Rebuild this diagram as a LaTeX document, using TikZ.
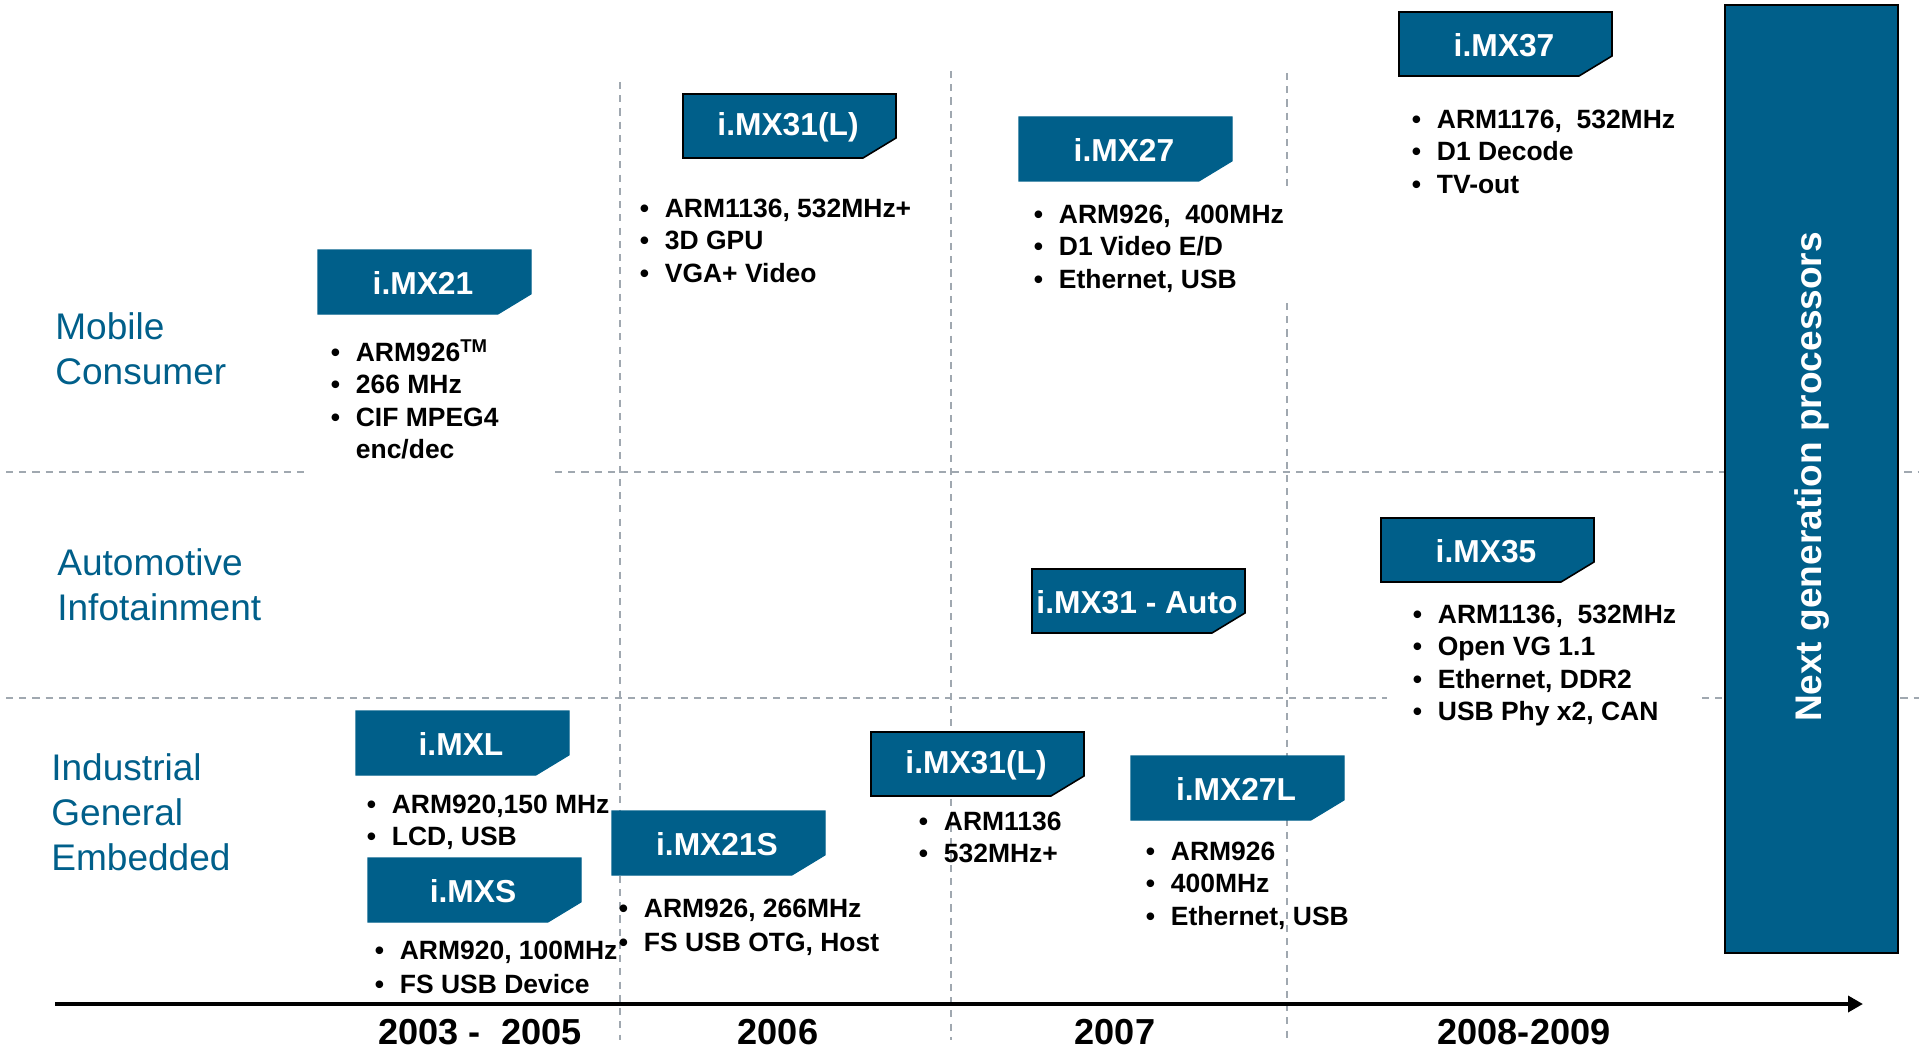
\documentclass[tikz,border=0pt]{standalone}
\usepackage{fontspec}
\setmainfont{Liberation Sans}
\usetikzlibrary{arrows.meta}
\definecolor{imxblue}{RGB}{0,95,138}
\definecolor{gridgray}{RGB}{160,168,176}
\tikzset{
  chipshape/.style={fill=imxblue, draw=imxblue, line width=0.6pt, line join=miter},
  chipedge/.style={draw=black, line width=0.9pt},
  chiptext/.style={text=white, font=\fontsize{18}{21}\selectfont\bfseries, inner sep=0pt},
  featlist/.style={anchor=base west, inner sep=0pt, font=\fontsize{15}{#1}\selectfont\bfseries},
  featlist/.default=18.3pt,
  cat/.style={anchor=base west, inner sep=0pt, align=left, text=imxblue, font=\fontsize{21}{25.5}\selectfont},
  year/.style={anchor=base, inner sep=0pt, font=\fontsize{20.5}{24}\selectfont\bfseries},
  gridline/.style={draw=gridgray, line width=1.1pt, dash pattern=on 4pt off 3.5pt},
  axisline/.style={line width=2.5pt, -{Triangle[length=8.5pt,width=9pt]}},
  nextbox/.style={fill=imxblue, draw=black, line width=1pt},
  nexttext/.style={rotate=90, text=white, inner sep=0pt, font=\fontsize{21}{24}\selectfont\bfseries},
}
% chip: [extra style]{name}{x}{y}{title}
\newcommand\chip[5][]{%
  \filldraw[chipshape,#1] (#3,#4) -- (#3+213,#4) -- (#3+213,#4+44) -- (#3+180,#4+64) -- (#3,#4+64) -- cycle;
  \node[chiptext] (#2) at (#3+105,#4+33) {#5};}
% feature list: [spacing]{name}{x}{y}{rows}
\newcommand\feats[5][18.3pt]{%
  \node[featlist=#1] (#2) at (#3,#4) {\begin{tabular}[t]{@{}l@{\hspace{9pt}}l@{}}#5\end{tabular}};}
\newcommand\bu{\textbullet&}
\begin{document}
\begin{tikzpicture}[x=0.5669pt, y=-0.5669pt]
\path[use as bounding box] (0,0) rectangle (1919,1049);

% grid lines
\draw[gridline] (6,472) -- (310,472);
\draw[gridline] (555,472) -- (1919,472);
\draw[gridline] (6,698) -- (1387,698);
\draw[gridline] (1702,698) -- (1919,698);
\draw[gridline] (620,82) -- (620,1040);
\draw[gridline] (951,71) -- (951,1040);
\draw[gridline] (1287,73) -- (1287,186);
\draw[gridline] (1287,303) -- (1287,1040);

% next generation box
\filldraw[nextbox] (1725,5) rectangle (1898,953);
\node[nexttext] (nextgen) at (1811.5,477) {Next generation processors};

% categories (anchor = baseline of last line)
\node[cat] (mobile) at (55,384) {Mobile\\Consumer};
\node[cat] (auto) at (57,620) {Automotive\\Infotainment};
\node[cat] (indus) at (51,870) {Industrial\\General\\Embedded};

% chips
\chip{b21}{318}{250}{i.MX21}
\chip[chipedge]{b31a}{683}{94}{i.MX31(L)}
\chip{b27}{1019}{117}{i.MX27}
\chip[chipedge]{b37}{1399}{12}{i.MX37}
\chip[chipedge]{b35}{1381}{518}{i.MX35}
\chip[chipedge]{bauto}{1032}{569}{i.MX31 - Auto}
\chip{bL}{356}{711}{i.MXL}
\chip{bS}{368}{858}{i.MXS}
\chip{b21S}{612}{811}{i.MX21S}
\chip[chipedge]{b31b}{871}{732}{i.MX31(L)}
\chip{b27L}{1131}{756}{i.MX27L}

% feature lists
\feats{f21}{330.4}{361.5}{\bu ARM926\textsuperscript{TM}\\ \bu 266 MHz\\ \bu CIF MPEG4\\ & enc/dec}
\feats{f31a}{639.4}{217.5}{\bu ARM1136, 532MHz+\\ \bu 3D GPU\\ \bu VGA+ Video}
\feats{f27}{1033.4}{223.5}{\bu ARM926,~~400MHz\\ \bu D1 Video E/D\\ \bu Ethernet, USB}
\feats{f37}{1411.4}{128.5}{\bu ARM1176,~~532MHz\\ \bu D1 Decode\\ \bu TV-out}
\feats{f35}{1412.4}{623.5}{\bu ARM1136,~~532MHz\\ \bu Open VG 1.1\\ \bu Ethernet, DDR2\\ \bu USB Phy x2, CAN}
\feats{fL}{366.4}{813.5}{\bu ARM920,150 MHz\\ \bu LCD, USB}
\feats[19.3pt]{fS}{374.4}{959.5}{\bu ARM920, 100MHz\\ \bu FS USB Device}
\feats[19.3pt]{f21S}{618.4}{917.5}{\bu ARM926, 266MHz\\ \bu FS USB OTG, Host}
\feats{f31b}{918.4}{830.5}{\bu ARM1136\\ \bu 532MHz+}
\feats[18.4pt]{f27L}{1145.4}{860.5}{\bu ARM926\\ \bu 400MHz\\ \bu Ethernet, USB}

% time axis
\coordinate (axstart) at (55,1004);
\coordinate (axend) at (1863,1004);
\draw[axisline] (axstart) -- (axend);
\node[year] (y1) at (480,1044) {2003 -~~2005};
\node[year] (y2) at (778,1044) {2006};
\node[year] (y3) at (1115,1044) {2007};
\node[year] (y4) at (1524,1044) {2008-2009};
\end{tikzpicture}
\end{document}
